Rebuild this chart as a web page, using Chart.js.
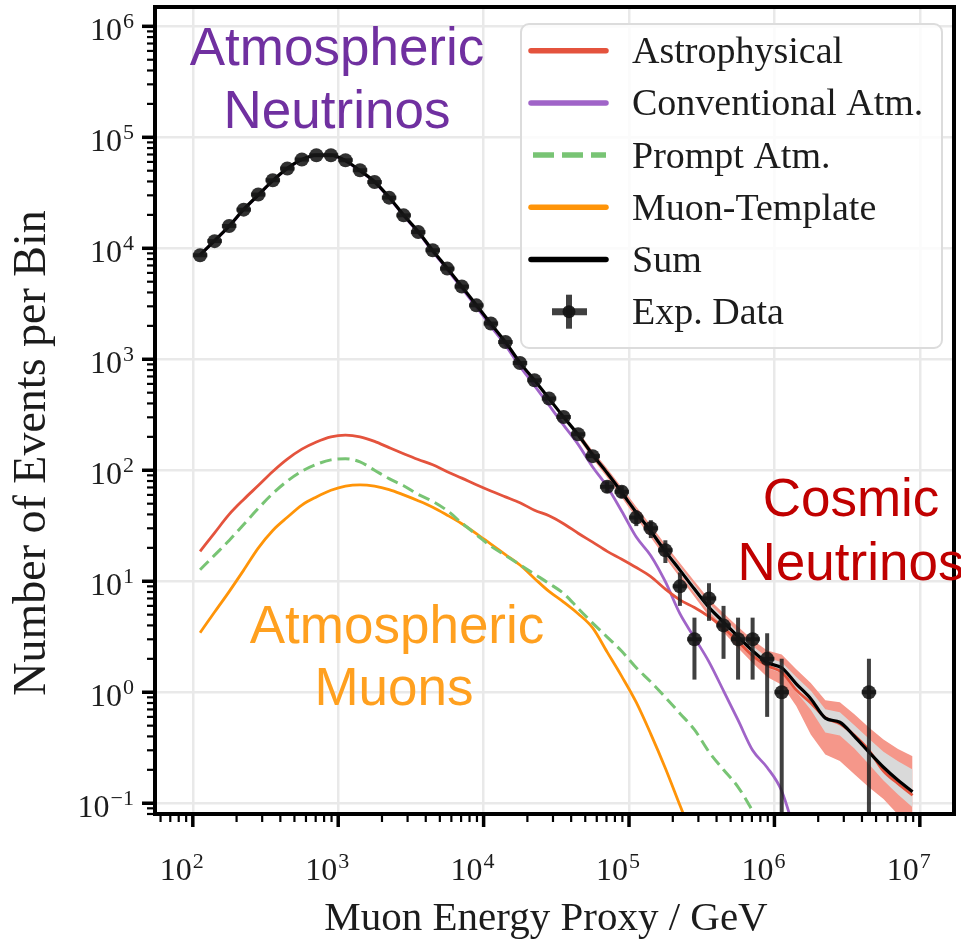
<!DOCTYPE html>
<html>
<head>
<meta charset="utf-8">
<script src="https://cdn.jsdelivr.net/npm/chart.js@4.4.1/dist/chart.umd.min.js"></script>
<style>
  html, body { margin: 0; padding: 0; background: #fff; }
  #wrap { width: 961px; height: 942px; }
</style>
</head>
<body>
<div id="wrap"><canvas id="spectrumChart" width="961" height="942"></canvas></div>
<script>
'use strict'

// log10 of the bin centres in GeV
const binLog10 = [2.05, 2.15, 2.25, 2.35, 2.45, 2.55, 2.65, 2.75, 2.85, 2.95,
                  3.05, 3.15, 3.25, 3.35, 3.45, 3.55, 3.65, 3.75, 3.85, 3.95,
                  4.05, 4.15, 4.25, 4.35, 4.45, 4.55, 4.65, 4.75, 4.85, 4.95,
                  5.05, 5.15, 5.25, 5.35, 5.45, 5.55, 5.65, 5.75, 5.85, 5.95,
                  6.05, 6.15, 6.25, 6.35, 6.45, 6.55, 6.65, 6.75, 6.85, 6.95];

// events per bin
const expData = [8650, 11600, 15900, 22300, 30500, 41000, 52300, 63000, 68900, 68900,
                 62100, 50500, 39500, 28600, 19800, 14000, 9600, 6560, 4520, 3060,
                 2100, 1430, 927, 647, 443, 302, 211, 134, 71, 64,
                 37.5, 30, 19, 9, 3, 7, 4, 3, 3, 2,
                 1, null, null, null, null, null, 1, null, null, null];
const expErr = [null, null, null, null, null, null, null, null, null, null,
                null, null, null, null, null, null, null, null, null, null,
                null, null, null, null, null, null, null, null, 8.4, 8,
                6.1, 5.5, 4.4, 3, 1.7, 2.6, 2, 1.7, 1.7, 1.4,
                1, null, null, null, null, null, 1, null, null, null];

const sumModel = [8710, 11750, 15850, 22390, 30200, 40740, 52480, 63100, 69180, 69180,
                  61660, 50120, 39810, 28840, 19950, 14130, 9550, 6610, 4520, 3090,
                  2090, 1430, 933, 646, 442, 302, 209, 138, 94.4, 63.1,
                  41.7, 28.2, 18.6, 12.6, 8.5, 5.82, 4.29, 3.16, 2.36, 1.85,
                  1.66, 1.19, 0.875, 0.585, 0.537, 0.40, 0.289, 0.211, 0.161, 0.127];
const astrophysical = [18.6, 27.3, 40, 54.6, 72.8, 97.5, 126, 155, 180, 200,
                       207, 200, 182, 160, 141, 125, 112, 97, 85, 74,
                       65, 57.6, 51, 43.6, 38.9, 33, 27.1, 22.5, 18.6, 15.8,
                       13.3, 11, 8.5, 6.8, 5.8, 4.8, 3.8, 2.87, 2.14, 1.73,
                       1.52, 1.05, 0.80, 0.59, 0.52, 0.41, 0.30, 0.195, 0.15, 0.118];
const conventional = [8680, 11700, 15790, 22290, 30060, 40550, 52230, 62780, 68820, 68780,
                      61250, 49730, 39470, 28530, 19680, 13890, 9340, 6430, 4370, 2960,
                      1980, 1340, 860, 580, 385, 255, 171, 107, 71, 42.7,
                      25, 17, 9.9, 5.1, 3.1, 1.88, 1.03, 0.56, 0.30, 0.21,
                      0.129, 0.05];
const promptAtm = [12.7, 17.2, 23.3, 32.5, 45.3, 61.7, 80, 98, 113, 124,
                   127, 119, 100, 84, 72.5, 60.7, 52.5, 43.3, 33.5, 26.3,
                   20.7, 17.1, 14.1, 11.6, 9.55, 7.76, 5.7, 4.2, 3.14, 2.34,
                   1.66, 1.24, 0.90, 0.645, 0.46, 0.29, 0.20, 0.14, 0.085, 0.05];
const muonTemplate = [3.44, 5.28, 8.07, 12.6, 19.9, 28.7, 37.7, 48.6, 57.5, 66,
                      72, 74, 72, 67, 60, 53.2, 46.5, 39.4, 33, 26.9,
                      21.6, 17.4, 14, 10.6, 8.1, 6.5, 5.1, 3.8, 2.3, 1.39,
                      0.81, 0.42, 0.207, 0.096, 0.045];

// uncertainty bands on the sum, from bin 26 on
const bandFirstBin = 26;
const outerHi = [224, 150, 104, 70, 46.8, 32, 21.4, 14.6, 10, 6.9, 5.15, 3.9, 2.96, 2.38,
                 2.19, 1.61, 1.21, 0.845, 0.813, 0.635, 0.48, 0.375, 0.308, 0.265];
const outerLo = [195, 127, 86, 56.9, 37.2, 24.8, 16.2, 10.8, 7.24, 4.84, 3.48, 2.51, 1.83, 1.37,
                 1.17, 0.752, 0.417, 0.275, 0.24, 0.182, 0.139, 0.109, 0.079, 0.059];
const innerHi = [216, 144, 98.9, 66.4, 44.2, 30, 19.95, 13.55, 9.23, 6.34, 4.70, 3.48, 2.61, 2.06,
                 1.86, 1.37, 1.03, 0.703, 0.661, 0.505, 0.381, 0.291, 0.239, 0.201];
const innerLo = [202, 133, 90.2, 60, 39.4, 26.5, 17.4, 11.7, 7.85, 5.35, 3.91, 2.87, 2.12, 1.66,
                 1.48, 1.01, 0.695, 0.434, 0.407, 0.311, 0.224, 0.16, 0.12, 0.092];

const xTickExponents = [2, 3, 4, 5, 6, 7];
const yTickExponents = [-1, 0, 1, 2, 3, 4, 5, 6];
const legendOrder = ['Astrophysical', 'Conventional Atm.', 'Prompt Atm.', 'Muon-Template', 'Sum', 'Exp. Data'];

const serif = '"Liberation Serif", "DejaVu Serif", serif';
const sans = '"Liberation Sans", Arial, sans-serif';
const textColor = '#1c1c1c';
const gridColor = '#e9e9e9';

const toPoints = (values, first = 0) => values
    .map((v, i) => v == null ? null : { x: 10 ** binLog10[first + i], y: v })
    .filter(p => p);

const isDecade = v => {
    const e = Math.log10(v);
    return Math.abs(e - Math.round(e)) < 1e-9;
};

const curve = (label, values, color, extra = {}) => Object.assign({
    label: label,
    data: toPoints(values),
    borderColor: color,
    backgroundColor: color,
    borderWidth: 2.8,
    pointRadius: 0,
    cubicInterpolationMode: 'monotone',
    fill: false
}, extra);

const band = (values, color, fill, order) => ({
    label: '',
    data: toPoints(values, bandFirstBin),
    borderWidth: 0,
    borderColor: 'rgba(0,0,0,0)',
    backgroundColor: color,
    pointRadius: 0,
    tension: 0,
    fill: fill,
    order: order
});

// draws error bars under the data markers
const errorBars = {
    id: 'errorBars',
    beforeDatasetDraw(chart, args) {
        if (args.index !== 0) return;
        const { ctx, chartArea, scales: { x, y } } = chart;
        ctx.save();
        ctx.beginPath();
        ctx.rect(chartArea.left, chartArea.top, chartArea.right - chartArea.left, chartArea.bottom - chartArea.top);
        ctx.clip();
        ctx.strokeStyle = 'rgba(30,30,30,0.85)';
        ctx.lineWidth = 4;
        expData.forEach((v, i) => {
            if (v == null) return;
            const px = x.getPixelForValue(10 ** binLog10[i]);
            const py = y.getPixelForValue(v);
            const x0 = x.getPixelForValue(10 ** (binLog10[i] - 0.05));
            const x1 = x.getPixelForValue(10 ** (binLog10[i] + 0.05));
            ctx.beginPath();
            ctx.moveTo(x0, py);
            ctx.lineTo(x1, py);
            ctx.stroke();
            const err = expErr[i];
            if (err == null) return;
            const top = y.getPixelForValue(v + err);
            const bottom = v - err > 0 ? y.getPixelForValue(v - err) : chartArea.bottom + 5;
            ctx.beginPath();
            ctx.moveTo(px, top);
            ctx.lineTo(px, bottom);
            ctx.stroke();
        });
        ctx.restore();
    }
};

const supDigits = { '-': '\u2212' };
const drawPower = (ctx, exp, x, baseline, align) => {
    const base = '10';
    const sup = String(exp).split('').map(c => supDigits[c] || c).join('');
    ctx.font = '32px ' + serif;
    const wb = ctx.measureText(base).width;
    ctx.font = '22px ' + serif;
    const ws = ctx.measureText(sup).width;
    const left = align === 'right' ? x - wb - ws - 1 : x - wb;
    ctx.textAlign = 'left';
    ctx.textBaseline = 'alphabetic';
    ctx.font = '32px ' + serif;
    ctx.fillText(base, left, baseline);
    ctx.font = '22px ' + serif;
    ctx.fillText(sup, left + wb + 1, baseline - 12);
};

// frame, tick marks, tick labels, axis titles, annotations and legend
const decorations = {
    id: 'decorations',
    afterDraw(chart) {
        const { ctx, chartArea: a, scales: { x, y } } = chart;
        ctx.save();

        // minor and major ticks, outside the frame
        ctx.strokeStyle = '#000';
        const marks = (scale, horizontal) => {
            const lo = Math.floor(Math.log10(scale.min));
            const hi = Math.ceil(Math.log10(scale.max));
            for (let e = lo; e <= hi; e++) {
                for (let m = 1; m <= 9; m++) {
                    const v = m * 10 ** e;
                    if (v < scale.min || v > scale.max) continue;
                    const p = scale.getPixelForValue(v);
                    const len = m === 1 ? 13 : 8;
                    ctx.lineWidth = m === 1 ? 3.5 : 2.2;
                    ctx.beginPath();
                    if (horizontal) {
                        ctx.moveTo(p, a.bottom);
                        ctx.lineTo(p, a.bottom + len);
                    } else {
                        ctx.moveTo(a.left, p);
                        ctx.lineTo(a.left - len, p);
                    }
                    ctx.stroke();
                }
            }
        };
        marks(x, true);
        marks(y, false);

        ctx.lineWidth = 4;
        ctx.strokeRect(a.left, a.top, a.right - a.left, a.bottom - a.top);

        // tick labels
        ctx.fillStyle = textColor;
        xTickExponents.forEach(e => {
            drawPower(ctx, e, x.getPixelForValue(10 ** e) - 1, 880, 'left');
        });
        yTickExponents.forEach(e => {
            drawPower(ctx, e, 134, y.getPixelForValue(10 ** e) + 14, 'right');
        });

        // axis titles
        ctx.textAlign = 'center';
        ctx.textBaseline = 'alphabetic';
        ctx.font = '41px ' + serif;
        ctx.fillText('Muon Energy Proxy / GeV', 546, 930);
        ctx.save();
        ctx.translate(45, 453);
        ctx.rotate(-Math.PI / 2);
        ctx.font = '46px ' + serif;
        ctx.fillText('Number of Events per Bin', 0, 0);
        ctx.restore();

        // annotations
        ctx.font = '53px ' + sans;
        ctx.fillStyle = '#7030A0';
        ctx.fillText('Atmospheric', 337, 65);
        ctx.fillText('Neutrinos', 337, 128);
        ctx.fillStyle = '#FFA01F';
        ctx.fillText('Atmospheric', 397, 643);
        ctx.fillText('Muons', 394, 705);
        ctx.fillStyle = '#C00000';
        ctx.fillText('Cosmic', 851, 516);
        ctx.fillText('Neutrinos', 851, 580);

        // legend
        const box = { left: 521, top: 24, right: 942, bottom: 348 };
        ctx.beginPath();
        ctx.roundRect(box.left, box.top, box.right - box.left, box.bottom - box.top, 8);
        ctx.fillStyle = 'rgba(255,255,255,0.8)';
        ctx.fill();
        ctx.strokeStyle = '#dcdcdc';
        ctx.lineWidth = 2;
        ctx.stroke();
        ctx.font = '38px ' + serif;
        ctx.textAlign = 'left';
        legendOrder.forEach((label, i) => {
            const ds = chart.data.datasets.find(d => d.label === label);
            const cy = 50.7 + 52.2 * i;
            if (label === 'Exp. Data') {
                ctx.strokeStyle = 'rgba(30,30,30,0.85)';
                ctx.lineWidth = 7;
                ctx.beginPath();
                ctx.moveTo(552, cy);
                ctx.lineTo(587, cy);
                ctx.stroke();
                ctx.lineWidth = 6;
                ctx.beginPath();
                ctx.moveTo(569, cy - 17);
                ctx.lineTo(569, cy + 17);
                ctx.stroke();
                ctx.fillStyle = 'rgba(20,20,20,0.9)';
                ctx.beginPath();
                ctx.arc(569, cy, 6.5, 0, 2 * Math.PI);
                ctx.fill();
            } else {
                ctx.strokeStyle = ds.borderColor;
                ctx.lineWidth = 5.5;
                if (ds.borderDash) {
                    ctx.lineCap = 'butt';
                    ctx.setLineDash([21, 8]);
                } else {
                    ctx.lineCap = 'round';
                    ctx.setLineDash([]);
                }
                ctx.beginPath();
                ctx.moveTo(ds.borderDash ? 533 : 531, cy);
                ctx.lineTo(606, cy);
                ctx.stroke();
                ctx.setLineDash([]);
                ctx.lineCap = 'butt';
            }
            ctx.fillStyle = textColor;
            ctx.fillText(label, 632, cy + 12.5);
        });
        ctx.restore();
    }
};

(() => {
    const canvas = document.querySelector('#spectrumChart');
    new Chart(canvas, {
        type: 'line',
        data: {
            datasets: [
                {
                    label: 'Exp. Data',
                    data: toPoints(expData),
                    showLine: false,
                    pointRadius: 7,
                    pointHoverRadius: 7,
                    pointBorderWidth: 0,
                    pointBackgroundColor: 'rgba(20,20,20,0.88)',
                    borderColor: 'rgba(20,20,20,0.88)',
                    order: 0
                },
                curve('Sum', sumModel, '#000000', { borderWidth: 3.2, order: 1 }),
                curve('Astrophysical', astrophysical, '#E4533D', { order: 2 }),
                curve('Conventional Atm.', conventional, '#A064C8', { order: 3 }),
                curve('Prompt Atm.', promptAtm, '#78C474', { borderDash: [12, 6], borderWidth: 3, order: 4 }),
                curve('Muon-Template', muonTemplate, '#FF9408', { order: 5 }),
                band(innerHi, '#d9d9d9', '+1', 6),
                band(innerLo, '#d9d9d9', false, 7),
                band(outerHi, '#F5978A', '+1', 8),
                band(outerLo, '#F5978A', false, 9)
            ]
        },
        options: {
            responsive: false,
            animation: false,
            layout: { padding: { top: 6, right: 4, left: 0, bottom: 0 } },
            plugins: {
                legend: { display: false },
                tooltip: { enabled: false }
            },
            scales: {
                x: {
                    type: 'logarithmic',
                    min: 10 ** 1.74,
                    max: 10 ** 7.235,
                    ticks: { display: false, autoSkip: false },
                    grid: {
                        color: c => isDecade(c.tick.value) ? gridColor : 'rgba(0,0,0,0)',
                        lineWidth: 2.5,
                        drawTicks: false
                    },
                    border: { display: false },
                    afterFit: s => { s.height = 128; }
                },
                y: {
                    type: 'logarithmic',
                    min: 10 ** -1.097,
                    max: 10 ** 6.174,
                    ticks: { display: false, autoSkip: false },
                    grid: {
                        color: c => isDecade(c.tick.value) ? gridColor : 'rgba(0,0,0,0)',
                        lineWidth: 2.5,
                        drawTicks: false
                    },
                    border: { display: false },
                    afterFit: s => { s.width = 155; }
                }
            }
        },
        plugins: [errorBars, decorations]
    });
})();
</script>
</body>
</html>
